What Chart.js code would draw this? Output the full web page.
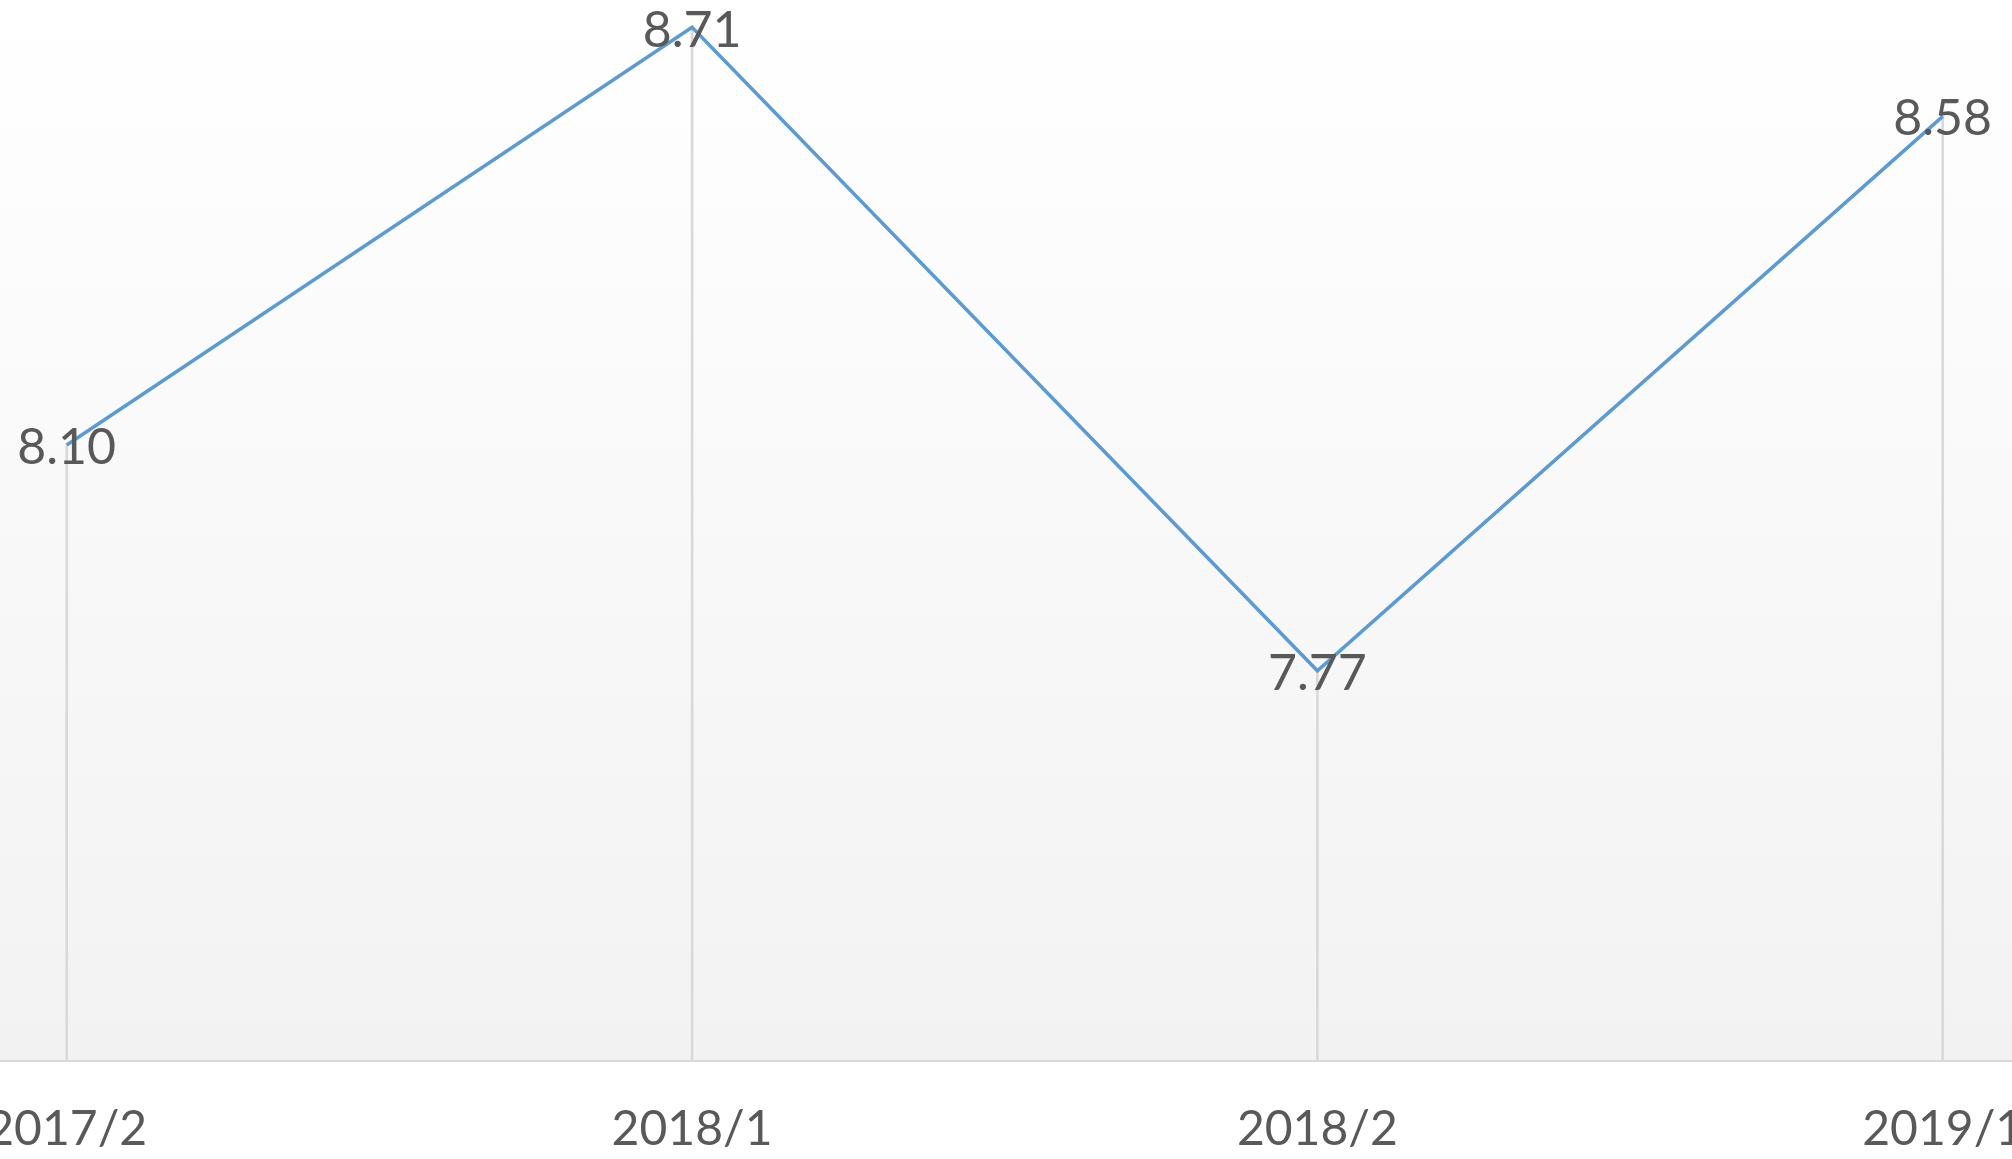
<!DOCTYPE html>
<html><head><meta charset="utf-8">
<script src="https://cdn.jsdelivr.net/npm/chart.js@4.4.0/dist/chart.umd.min.js"></script>
<style>
html,body{margin:0;padding:0;background:#fff;overflow:hidden;width:2012px;height:1159px;}
#wrap{position:absolute;left:-150px;top:0;width:2312px;height:1159px;}
</style></head><body>
<div id="wrap"><canvas id="c"></canvas></div>
<script>
const categories = ['2017/2', '2018/1', '2018/2', '2019/1'];
const values = [8.10, 8.71, 7.77, 8.58];
const yMin = 7.2, yMax = 8.75;
const xMin = -0.1067, xMax = 3.1108;

const FONT = 'Lato';
const TEXT = '#595959';

const bgPlugin = {
  id: 'bg',
  beforeDraw(chart) {
    const {ctx, chartArea: a} = chart;
    const g = ctx.createLinearGradient(0, a.top, 0, a.bottom);
    g.addColorStop(0, '#ffffff');
    g.addColorStop(1, '#f2f2f2');
    ctx.save();
    ctx.fillStyle = g;
    ctx.fillRect(a.left, a.top, a.right - a.left, a.bottom - a.top);
    ctx.restore();
  }
};

const labelPlugin = {
  id: 'valueLabels',
  afterDatasetsDraw(chart) {
    const meta = chart.getDatasetMeta(0);
    const ctx = chart.ctx;
    ctx.save();
    ctx.font = '50px ' + FONT;
    ctx.fillStyle = TEXT;
    ctx.textAlign = 'center';
    ctx.textBaseline = 'middle';
    meta.data.forEach((el, i) => {
      ctx.fillText(values[i].toFixed(2), el.x, el.y + 3);
    });
    ctx.restore();
  }
};

function draw() {
  const pts = values.map((v, i) => ({x: i, y: v}));
  new Chart(document.getElementById('c'), {
    type: 'line',
    data: {
      datasets: [
        {type: 'line', data: pts, borderColor: '#5B9BD5', borderWidth: 3.5, pointRadius: 0,
         tension: 0, fill: false, order: 0, clip: false},
        {type: 'bar', data: pts, backgroundColor: '#d9d9d9', barThickness: 2, order: 1}
      ]
    },
    options: {
      responsive: true,
      maintainAspectRatio: false,
      animation: false,
      devicePixelRatio: 1,
      layout: {padding: {left: 150, right: 150, top: 0, bottom: 0}},
      plugins: {legend: {display: false}, tooltip: {enabled: false}},
      scales: {
        x: {
          type: 'linear', min: xMin, max: xMax, offset: false,
          grid: {display: false, drawTicks: false},
          border: {display: true, color: '#d9d9d9', width: 2},
          ticks: {
            stepSize: 1, includeBounds: false, autoSkip: false, maxRotation: 0,
            font: {family: FONT, size: 48}, color: TEXT, padding: 40,
            callback: v => categories[v] ?? ''
          },
          afterFit: s => { s.height = 98; }
        },
        y: {type: 'linear', display: false, min: yMin, max: yMax}
      }
    },
    plugins: [bgPlugin, labelPlugin]
  });
}
if (document.fonts && document.fonts.load) {
  document.fonts.load('48px ' + FONT).then(draw, draw);
} else draw();
</script>
</body></html>
